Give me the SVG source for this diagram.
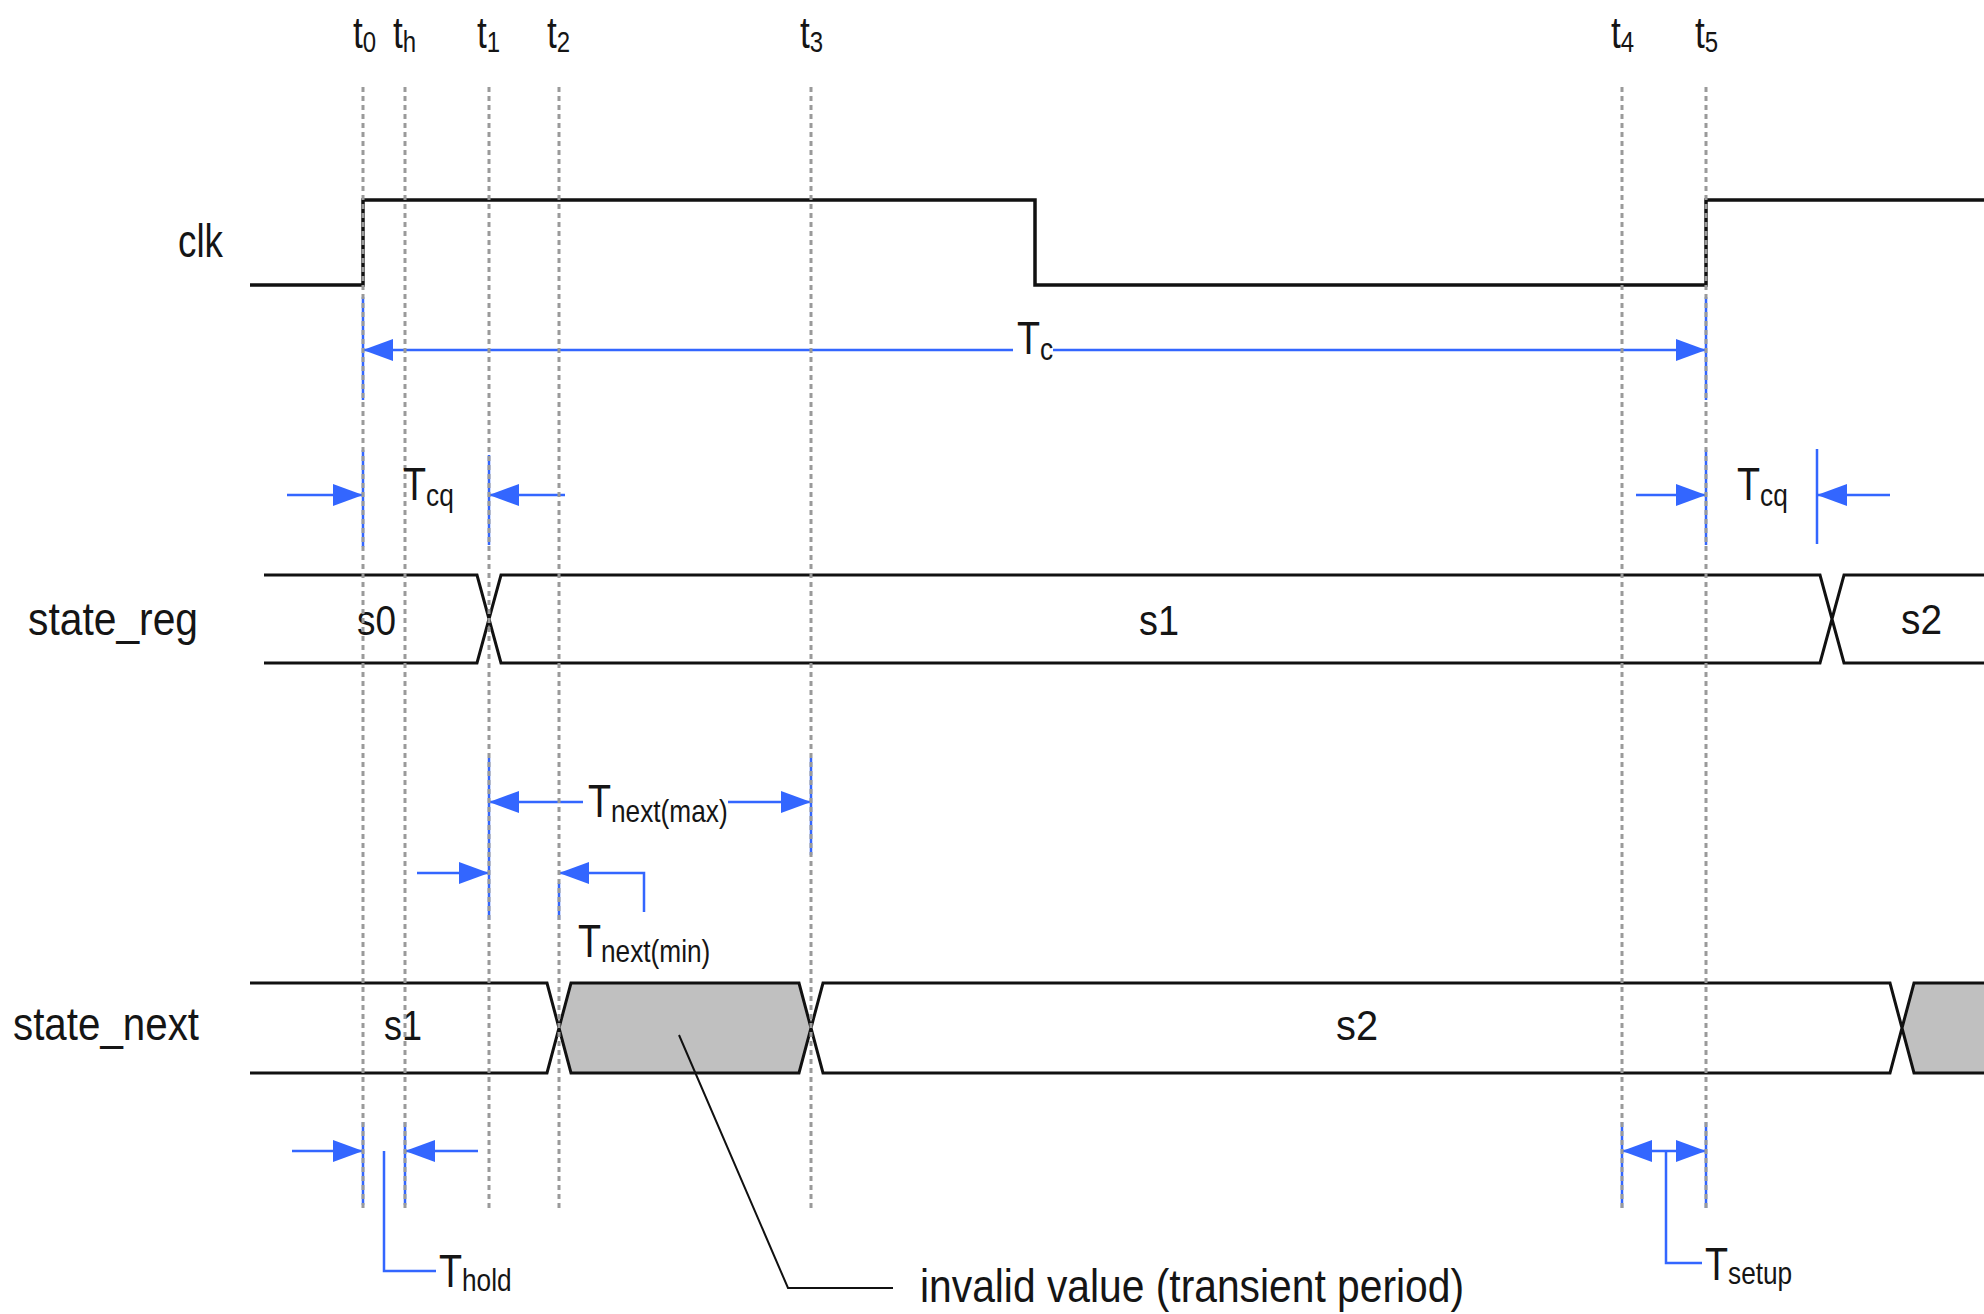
<svg xmlns="http://www.w3.org/2000/svg" width="1984" height="1314" viewBox="0 0 1984 1314">
<style>
text{font-family:'Liberation Sans',Arial,sans-serif;fill:#151515}
.big{font-size:46px}
.val{font-size:42px}
.wave{fill:none;stroke:#111;stroke-width:3.5}
.bus{fill:none;stroke:#111;stroke-width:3}
.inv{fill:#c0c0c0;stroke:none}
.dot{stroke:#9a9a9a;stroke-width:3;stroke-dasharray:5 4}
.blue{fill:none;stroke:#3366ff;stroke-width:2.5}
.arr{fill:none;stroke:#3366ff;stroke-width:2.5;marker-end:url(#ah)}
.lead{fill:none;stroke:#111;stroke-width:2}
</style>
<defs>
<marker id="ah" markerUnits="userSpaceOnUse" markerWidth="30" markerHeight="22" refX="30" refY="11" orient="auto">
<path d="M0,0 L30,11 L0,22 z" fill="#3366ff"/>
</marker>
</defs>
<rect width="1984" height="1314" fill="#fff"/>

<g id="signal-clk">
<text class="big" x="178" y="257" textLength="45" lengthAdjust="spacingAndGlyphs">clk</text>
<path class="wave" d="M250 285 H363 V200 H1035 V285 H1706 V200 H1984"/>
</g>

<g id="signal-state_reg">
<text class="big" x="28" y="635" textLength="170" lengthAdjust="spacingAndGlyphs">state_reg</text>
<path class="bus" d="M264 575 H477 L501 663 H1820 L1844 575 H1984 M264 663 H477 L501 575 H1820 L1844 663 H1984"/>
<text class="val" x="357" y="635" textLength="39" lengthAdjust="spacingAndGlyphs">s0</text>
<text class="val" x="1139" y="635" textLength="40" lengthAdjust="spacingAndGlyphs">s1</text>
<text class="val" x="1901" y="634" textLength="41" lengthAdjust="spacingAndGlyphs">s2</text>
</g>

<g id="signal-state_next">
<text class="big" x="13" y="1040" textLength="186" lengthAdjust="spacingAndGlyphs">state_next</text>
<path class="inv" d="M559 1028 L571 983 H799 L811 1028 L799 1073 H571 Z"/>
<path class="inv" d="M1902 1028 L1914 983 H1984 V1073 H1914 Z"/>
<path class="bus" d="M250 983 H547 L571 1073 H799 L823 983 H1890 L1914 1073 H1984 M250 1073 H547 L571 983 H799 L823 1073 H1890 L1914 983 H1984"/>
<text class="val" x="384" y="1040" textLength="38" lengthAdjust="spacingAndGlyphs">s1</text>
<text class="val" x="1336" y="1040" textLength="42" lengthAdjust="spacingAndGlyphs">s2</text>
</g>

<g id="connectors">
<path class="blue" d="M363 297 V400 M1706 297 V400 M363 450 V547 M489 455 V545 M1706 450 V545 M1817 449 V544 M489 758 V920 M811 758 V855 M559 883 V920 M363 1122 V1205 M405 1122 V1205 M1622 1122 V1208 M1706 1122 V1208"/>
<line class="arr" x1="1013" y1="350" x2="363" y2="350"/>
<line class="arr" x1="1053" y1="350" x2="1706" y2="350"/>
<line class="arr" x1="287" y1="495" x2="363" y2="495"/>
<line class="arr" x1="565" y1="495" x2="489" y2="495"/>
<line class="arr" x1="1636" y1="495" x2="1706" y2="495"/>
<line class="arr" x1="1890" y1="495" x2="1817" y2="495"/>
<line class="arr" x1="583" y1="802" x2="489" y2="802"/>
<line class="arr" x1="728" y1="802" x2="811" y2="802"/>
<line class="arr" x1="417" y1="873" x2="489" y2="873"/>
<polyline class="arr" points="644,912 644,873 559,873"/>
<line class="arr" x1="292" y1="1151" x2="363" y2="1151"/>
<line class="arr" x1="478" y1="1151" x2="405" y2="1151"/>
<polyline class="blue" points="384,1151 384,1271 436,1271"/>
<line class="arr" x1="1666" y1="1151" x2="1622" y2="1151"/>
<line class="arr" x1="1666" y1="1151" x2="1706" y2="1151"/>
<polyline class="blue" points="1666,1151 1666,1263 1702,1263"/>
<polyline class="lead" points="679,1035 788,1288 893,1288"/>
</g>

<g id="time-markers">
<path class="dot" d="M363 87 V1208 M405 87 V1208 M489 87 V1208 M559 87 V1208 M811 87 V1208 M1622 87 V1208 M1706 87 V1208"/>
<text transform="translate(353,48) scale(0.8,1)"><tspan font-size="44">t</tspan><tspan font-size="30" dy="4">0</tspan></text>
<text transform="translate(393,48) scale(0.8,1)"><tspan font-size="44">t</tspan><tspan font-size="30" dy="4">h</tspan></text>
<text transform="translate(477,48) scale(0.8,1)"><tspan font-size="44">t</tspan><tspan font-size="30" dy="4">1</tspan></text>
<text transform="translate(547,48) scale(0.8,1)"><tspan font-size="44">t</tspan><tspan font-size="30" dy="4">2</tspan></text>
<text transform="translate(800,48) scale(0.8,1)"><tspan font-size="44">t</tspan><tspan font-size="30" dy="4">3</tspan></text>
<text transform="translate(1611,48) scale(0.8,1)"><tspan font-size="44">t</tspan><tspan font-size="30" dy="4">4</tspan></text>
<text transform="translate(1695,48) scale(0.8,1)"><tspan font-size="44">t</tspan><tspan font-size="30" dy="4">5</tspan></text>
</g>

<g id="labels">
<text transform="translate(1017,354) scale(0.82,1)"><tspan font-size="46">T</tspan><tspan font-size="32" dy="6">c</tspan></text>
<text transform="translate(403,500) scale(0.82,1)"><tspan font-size="46">T</tspan><tspan font-size="32" dy="6">cq</tspan></text>
<text transform="translate(1737,500) scale(0.82,1)"><tspan font-size="46">T</tspan><tspan font-size="32" dy="6">cq</tspan></text>
<text transform="translate(588,817) scale(0.82,1)"><tspan font-size="46">T</tspan><tspan font-size="32" dy="5">next(max)</tspan></text>
<text transform="translate(578,957) scale(0.82,1)"><tspan font-size="46">T</tspan><tspan font-size="32" dy="5">next(min)</tspan></text>
<text transform="translate(439,1287) scale(0.82,1)"><tspan font-size="46">T</tspan><tspan font-size="32" dy="4">hold</tspan></text>
<text transform="translate(1705,1280) scale(0.82,1)"><tspan font-size="46">T</tspan><tspan font-size="32" dy="4">setup</tspan></text>
<text class="big" x="920" y="1302" textLength="544" lengthAdjust="spacingAndGlyphs">invalid value (transient period)</text>
</g>
</svg>
